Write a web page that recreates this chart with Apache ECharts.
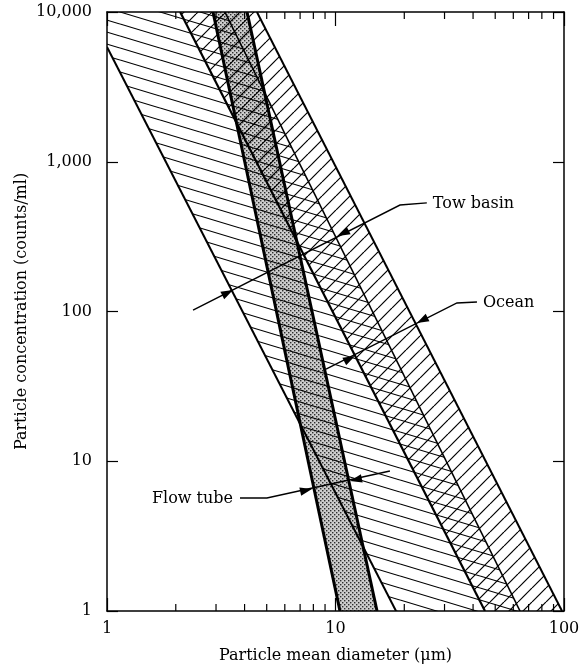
<!DOCTYPE html>
<html><head><meta charset="utf-8">
<script src="https://cdn.jsdelivr.net/npm/echarts@6/dist/echarts.min.js"></script>
<style>html,body{margin:0;padding:0;background:#fff}#chart{width:579px;height:669px}</style>
</head><body><div id="chart"></div>
<script>
// ---- data ----
const xRange = [1, 100];
const yRange = [1, 10000];
const xTickLabels = ['1', '10', '100'];
const yTickLabels = ['1', '10', '100', '1,000', '10,000'];
const xMinorTicks = [2, 3, 4, 5, 6, 7, 8, 9, 20, 30, 40, 50, 60, 70, 80, 90];

// band boundaries, [diameter, concentration]
const towBasinLower = [[1, 5836], [18.4, 1]];
const towBasinUpper = [[3.28, 10000], [64.2, 1]];
const oceanLower = [[2.09, 10000], [45.1, 1]];
const oceanUpper = [[4.53, 10000], [98, 1]];
const flowTubeLower = [[2.91, 10000], [10.46, 1]];
const flowTubeUpper = [[4.10, 10000], [15.2, 1]];

// annotations: leader polyline starts at the label
const towBasinLeader = [[25.1, 531], [19.15, 514], [2.38, 102]];
const towBasinArrows = [[10.26, 319], [3.56, 139]];
const oceanLeader = [[41.6, 115.6], [34.0, 114], [9.09, 41.3]];
const oceanArrows = [[22.7, 83.8], [12.17, 50.4]];
const flowTubeLeader = [[3.82, 5.68], [5.01, 5.68], [17.3, 8.61]];
const flowTubeArrows = [[7.89, 6.53], [11.58, 7.38]];
const labels = ['Tow basin', 'Ocean', 'Flow tube'];

// ---- patterns ----
function makeTile(w, h, draw) {
  const c = document.createElement('canvas');
  c.width = w; c.height = h;
  draw(c.getContext('2d'), w, h);
  return c;
}
const towTile = makeTile(40, 12, (ctx, w, h) => {
  ctx.strokeStyle = '#000'; ctx.lineWidth = 1.1;
  for (let k = -1; k <= 1; k++) { ctx.beginPath(); ctx.moveTo(0, k * h); ctx.lineTo(w, (k + 1) * h); ctx.stroke(); }
});
const oceanTile = makeTile(14, 14, (ctx, w, h) => {
  ctx.strokeStyle = '#000'; ctx.lineWidth = 1.2;
  for (let k = -1; k <= 1; k++) { ctx.beginPath(); ctx.moveTo(k * w, h); ctx.lineTo((k + 1) * w, 0); ctx.stroke(); }
});
const stippleTile = makeTile(4, 4, (ctx, w, h) => {
  ctx.fillStyle = '#cdcdcd'; ctx.fillRect(0, 0, w, h);
  ctx.fillStyle = '#2e2e2e'; ctx.fillRect(0, 0, 1.4, 1.4); ctx.fillRect(2, 2, 1.4, 1.4);
});
const towFill = { image: towTile, repeat: 'repeat' };
const oceanFill = { image: oceanTile, repeat: 'repeat' };
const stippleFill = { image: stippleTile, repeat: 'repeat' };

const FONT = 'DejaVu Serif';
const FS = 16;

function renderBands(params, api) {
  const c = [];
  const P = p => api.coord(p);
  const poly = (pts, fill) => c.push({ type: 'polygon', shape: { points: pts.map(P) }, style: { fill: fill, stroke: null } });
  const line = (pts, w) => c.push({ type: 'polyline', shape: { points: pts.map(P) }, style: { stroke: '#000', lineWidth: w, fill: null, lineJoin: 'round' } });

  poly([flowTubeLower[0], flowTubeUpper[0], flowTubeUpper[1], flowTubeLower[1]], stippleFill);
  poly([[xRange[0], yRange[1]], towBasinUpper[0], towBasinUpper[1], towBasinLower[1], towBasinLower[0]], towFill);
  poly([oceanLower[0], oceanUpper[0], oceanUpper[1], oceanLower[1]], oceanFill);

  line(towBasinLower, 2.0);
  line(towBasinUpper, 1.6);
  line(oceanLower, 2.2);
  line(oceanUpper, 2.0);
  line(flowTubeLower, 3.0);
  line(flowTubeUpper, 3.0);

  // annotations
  const groups = [[towBasinLeader, towBasinArrows, labels[0]], [oceanLeader, oceanArrows, labels[1]], [flowTubeLeader, flowTubeArrows, labels[2]]];
  groups.forEach(([leader, arrows, text]) => {
    const pts = leader.map(P);
    c.push({ type: 'polyline', shape: { points: pts }, style: { stroke: '#000', lineWidth: 1.4, fill: null } });
    const a = pts[pts.length - 2], b = pts[pts.length - 1];
    let dx = b[0] - a[0], dy = b[1] - a[1];
    const len = Math.hypot(dx, dy); dx /= len; dy /= len;
    arrows.forEach((tp, i) => {
      const t = P(tp);
      const s = i === 0 ? 1 : -1;
      const ux = dx * s, uy = dy * s;
      const L = 12, W = 4.2;
      const bx = t[0] - ux * L, by = t[1] - uy * L;
      c.push({ type: 'polygon', shape: { points: [t, [bx - uy * W, by + ux * W], [bx + uy * W, by - ux * W]] }, style: { fill: '#000', stroke: null } });
    });
    const first = pts[0], next = pts[1];
    const leftSide = next[0] > first[0];
    c.push({ type: 'text', x: first[0] + (leftSide ? -7 : 6), y: first[1] + 1,
      style: { text: text, fontFamily: FONT, fontSize: FS, fill: '#000', align: leftSide ? 'right' : 'left', verticalAlign: 'middle' } });
  });

  // minor ticks on bottom and top x axes
  xMinorTicks.forEach(v => {
    const b = P([v, yRange[0]]), t = P([v, yRange[1]]);
    c.push({ type: 'line', shape: { x1: b[0], y1: b[1], x2: b[0], y2: b[1] - 7 }, style: { stroke: '#000', lineWidth: 1.2 } });
    c.push({ type: 'line', shape: { x1: t[0], y1: t[1], x2: t[0], y2: t[1] + 7 }, style: { stroke: '#000', lineWidth: 1.2 } });
  });
  return { type: 'group', children: c };
}

const axisLineStyle = { color: '#000', width: 1.5 };
const xLabelFmt = v => xTickLabels[Math.round(Math.log10(v))];
const yLabelFmt = v => yTickLabels[Math.round(Math.log10(v))];
const nameStyle = { fontFamily: FONT, fontSize: FS, color: '#000' };

const chart = echarts.init(document.getElementById('chart'));
chart.setOption({
  animation: false,
  grid: { left: 107, right: 15, top: 12, bottom: 58, containLabel: false, outerBoundsMode: 'none' },
  xAxis: [
    { type: 'log', logBase: 10, min: xRange[0], max: xRange[1], position: 'bottom', z: 10,
      axisLine: { show: true, onZero: false, lineStyle: axisLineStyle },
      axisTick: { show: true, inside: true, length: 13, lineStyle: { color: '#000', width: 1.2 } },
      axisLabel: { show: true, margin: 10, color: '#000', fontFamily: FONT, fontSize: FS, formatter: xLabelFmt, showMinLabel: true, showMaxLabel: true },
      splitLine: { show: false },
      name: 'Particle mean diameter (μm)', nameLocation: 'middle', nameGap: 37, nameMoveOverlap: false, nameTextStyle: nameStyle },
    { type: 'log', logBase: 10, min: xRange[0], max: xRange[1], position: 'top', z: 10,
      axisLine: { show: true, onZero: false, lineStyle: axisLineStyle },
      axisTick: { show: true, inside: true, length: 14, lineStyle: { color: '#000', width: 1.2 } },
      axisLabel: { show: false }, splitLine: { show: false } }
  ],
  yAxis: [
    { type: 'log', logBase: 10, min: yRange[0], max: yRange[1], position: 'left', z: 10,
      axisLine: { show: true, onZero: false, lineStyle: axisLineStyle },
      axisTick: { show: true, inside: true, length: 11, lineStyle: { color: '#000', width: 1.2 } },
      axisLabel: { show: true, margin: 15, color: '#000', fontFamily: FONT, fontSize: FS, formatter: yLabelFmt, showMinLabel: true, showMaxLabel: true },
      splitLine: { show: false },
      name: 'Particle concentration (counts/ml)', nameLocation: 'middle', nameGap: 77, nameMoveOverlap: false, nameTextStyle: nameStyle },
    { type: 'log', logBase: 10, min: yRange[0], max: yRange[1], position: 'right', z: 10,
      axisLine: { show: true, onZero: false, lineStyle: axisLineStyle },
      axisTick: { show: true, inside: true, length: 11, lineStyle: { color: '#000', width: 1.2 } },
      axisLabel: { show: false }, splitLine: { show: false } }
  ],
  series: [
    { type: 'custom', coordinateSystem: 'cartesian2d', xAxisIndex: 0, yAxisIndex: 0, silent: true, clip: true, z: 2,
      data: [[xRange[0], yRange[0]]], renderItem: renderBands }
  ]
});
</script>
</body></html>
